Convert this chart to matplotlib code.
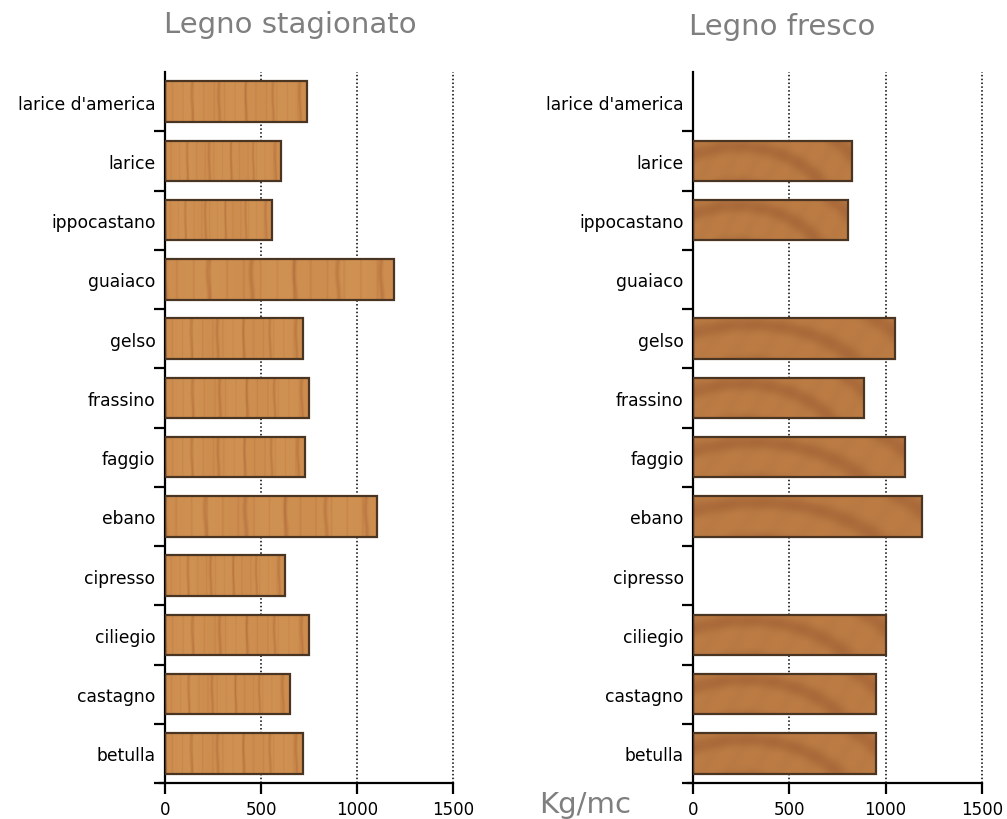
import numpy as np
import matplotlib
matplotlib.use("Agg")
import matplotlib.pyplot as plt
from matplotlib.ticker import FixedLocator

# ---- data ----
categories = ["larice d'america", "larice", "ippocastano", "guaiaco", "gelso",
              "frassino", "faggio", "ebano", "cipresso", "ciliegio",
              "castagno", "betulla"]
stagionato = [740, 605, 555, 1190, 720, 750, 730, 1105, 625, 750, 650, 720]
fresco = [np.nan, 825, 805, np.nan, 1050, 890, 1100, 1190, np.nan, 1000, 950, 950]
xticks = [0, 500, 1000, 1500]
titles = ["Legno stagionato", "Legno fresco"]
unit_label = "Kg/mc"

W, H = 1007, 820
fig = plt.figure(figsize=(W / 100, H / 100), dpi=100)


def wood_texture(kind):
    ny, nx = 60, 400
    yy, xx = np.mgrid[0:ny, 0:nx]
    x = xx / nx
    y = yy / ny
    if kind == "vertical":
        base = np.array([208, 146, 82]) / 255.0
        dark = np.array([178, 108, 58]) / 255.0
        g = (0.5 + 0.5 * np.cos(2 * np.pi * (x * 5.3 + 0.02 * np.sin(y * 5)))) ** 40
        g2 = (0.5 + 0.5 * np.cos(2 * np.pi * (x * 13.7 + 0.3))) ** 30
        f = 0.55 * g + 0.3 * g2 + 0.12 * (0.5 + 0.5 * np.sin(2 * np.pi * (x * 3.1 + 0.2)))
    else:
        base = np.array([188, 124, 68]) / 255.0
        dark = np.array([160, 96, 52]) / 255.0
        r = np.sqrt((x * 3.2 - 0.9) ** 2 + (y - 2.2) ** 2)
        g = (0.5 + 0.5 * np.sin(2 * np.pi * r * 1.1)) ** 3
        f = 0.6 * g + 0.08 * (0.5 + 0.5 * np.sin(2 * np.pi * (x * 7 + y)))
    f = np.clip(f, 0, 1)[..., None]
    return base * (1 - f) + dark * f


def draw_panel(ax, values, kind):
    ypos = np.arange(len(categories))
    for xv in xticks[1:]:
        ax.axvline(xv, color="black", lw=1.1, ls=(0, (1, 1.5)), zorder=1, clip_on=False)
    tex = wood_texture(kind)
    for yp, v in zip(ypos, values):
        if np.isnan(v):
            continue
        bars = ax.barh([yp], [v], height=0.68, left=0, facecolor="none",
                       edgecolor="#4a3422", linewidth=1.6, zorder=3)
        rect = bars.patches[0]
        im = ax.imshow(tex, extent=[0, v, yp + 0.34, yp - 0.34], aspect="auto",
                       zorder=2, interpolation="bilinear")
        im.set_clip_path(rect)
    ax.set_aspect("auto")
    ax.set_xlim(0, 1500)
    ax.set_ylim(len(categories) - 0.5, -0.5)
    for s in ["top", "right"]:
        ax.spines[s].set_visible(False)
    for s in ["left", "bottom"]:
        ax.spines[s].set_linewidth(1.6)
    ax.spines["bottom"].set_bounds(-28, 1500)
    ax.spines["bottom"].set_clip_on(False)
    ax.set_yticks(ypos)
    ax.set_yticklabels(categories, fontsize=12.3)
    ax.yaxis.set_minor_locator(FixedLocator(np.arange(0.5, len(categories), 1.0)))
    ax.tick_params(axis="y", which="major", length=0, pad=7)
    ax.tick_params(axis="y", which="minor", length=8, width=1.6, direction="out")
    ax.set_xticks(xticks)
    ax.set_xticklabels([str(t) for t in xticks], fontsize=12)
    ax.tick_params(axis="x", which="major", length=8, width=1.6, direction="out", pad=4)


axL = fig.add_axes([165 / W, 1 - 784 / H, (453.3 - 165) / W, 711 / H])
axR = fig.add_axes([693.3 / W, 1 - 784 / H, (981.7 - 693.3) / W, 711 / H])
draw_panel(axL, stagionato, "vertical")
draw_panel(axR, fresco, "curved")

fig.text(290 / W, 1 - 25 / H, titles[0], fontsize=21, color="#7f7f7f",
         ha="center", va="center")
fig.text(782 / W, 1 - 27 / H, titles[1], fontsize=21, color="#7f7f7f",
         ha="center", va="center")
fig.text(585 / W, 1 - 805 / H, unit_label, fontsize=21, color="#7f7f7f",
         ha="center", va="center")

fig.savefig("out.png", dpi=100)
